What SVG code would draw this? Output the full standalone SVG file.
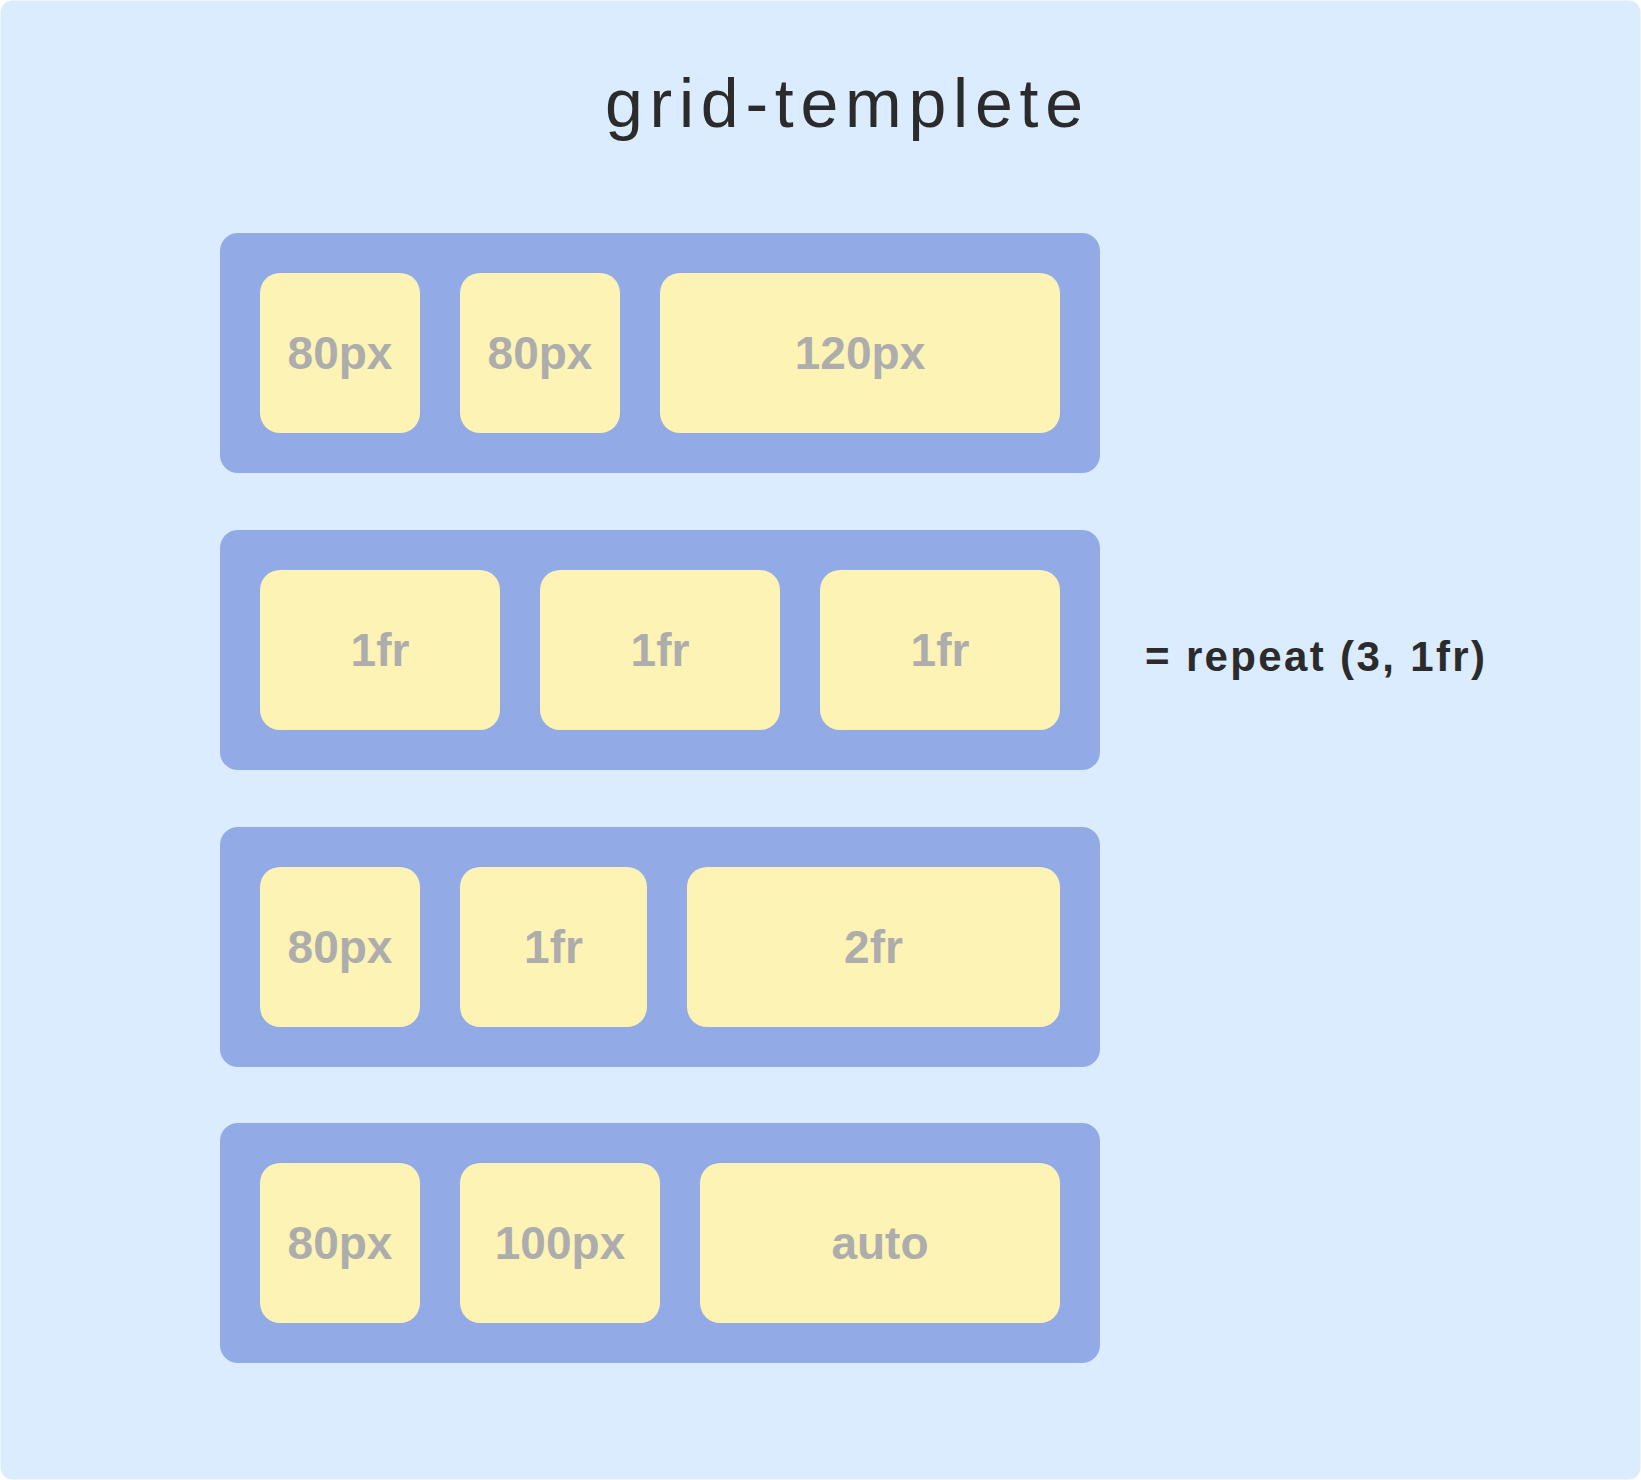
<svg xmlns="http://www.w3.org/2000/svg" width="1641" height="1480" viewBox="0 0 1641 1480">
  <style>
    .bg { fill: #dbecfe; }
    .box { fill: #92aae6; }
    .cell { fill: #fcf3b5; }
    .lbl { font-family: "Liberation Sans", Arial, sans-serif; font-weight: bold; font-size: 46px; fill: #adadad; text-anchor: middle; }
    .title { font-family: "Liberation Sans", Arial, sans-serif; font-size: 68px; fill: #2b2b2b; }
    .note { font-family: "Liberation Sans", Arial, sans-serif; font-weight: bold; font-size: 42px; fill: #2b2b2b; }
  </style>
  <rect width="1641" height="1480" fill="#ffffff"/>
  <rect class="bg" x="0.5" y="0.5" width="1640" height="1479" rx="12"/>
  <text class="title" x="605" y="127" textLength="478" lengthAdjust="spacing">grid-templete</text>

  <g id="row1">
    <rect class="box" x="220" y="233" width="880" height="240" rx="18"/>
    <g id="row1-c1"><rect class="cell" x="260" y="273" width="160" height="160" rx="20"/><text class="lbl" x="340" y="369">80px</text></g>
    <g id="row1-c2"><rect class="cell" x="460" y="273" width="160" height="160" rx="20"/><text class="lbl" x="540" y="369">80px</text></g>
    <g id="row1-c3"><rect class="cell" x="660" y="273" width="400" height="160" rx="20"/><text class="lbl" x="860" y="369">120px</text></g>
  </g>

  <g id="row2">
    <rect class="box" x="220" y="530" width="880" height="240" rx="18"/>
    <g id="row2-c1"><rect class="cell" x="260" y="570" width="240" height="160" rx="20"/><text class="lbl" x="380" y="666">1fr</text></g>
    <g id="row2-c2"><rect class="cell" x="540" y="570" width="240" height="160" rx="20"/><text class="lbl" x="660" y="666">1fr</text></g>
    <g id="row2-c3"><rect class="cell" x="820" y="570" width="240" height="160" rx="20"/><text class="lbl" x="940" y="666">1fr</text></g>
  </g>
  <g id="repeat-note">
    <text class="note" x="1145" y="671" textLength="340" lengthAdjust="spacing">= repeat (3, 1fr)</text>
  </g>

  <g id="row3">
    <rect class="box" x="220" y="827" width="880" height="240" rx="18"/>
    <g id="row3-c1"><rect class="cell" x="260" y="867" width="160" height="160" rx="20"/><text class="lbl" x="340" y="963">80px</text></g>
    <g id="row3-c2"><rect class="cell" x="460" y="867" width="187" height="160" rx="20"/><text class="lbl" x="553.5" y="963">1fr</text></g>
    <g id="row3-c3"><rect class="cell" x="687" y="867" width="373" height="160" rx="20"/><text class="lbl" x="873.5" y="963">2fr</text></g>
  </g>

  <g id="row4">
    <rect class="box" x="220" y="1123" width="880" height="240" rx="18"/>
    <g id="row4-c1"><rect class="cell" x="260" y="1163" width="160" height="160" rx="20"/><text class="lbl" x="340" y="1259">80px</text></g>
    <g id="row4-c2"><rect class="cell" x="460" y="1163" width="200" height="160" rx="20"/><text class="lbl" x="560" y="1259">100px</text></g>
    <g id="row4-c3"><rect class="cell" x="700" y="1163" width="360" height="160" rx="20"/><text class="lbl" x="880" y="1259">auto</text></g>
  </g>

  <g id="connectors"></g>
</svg>
